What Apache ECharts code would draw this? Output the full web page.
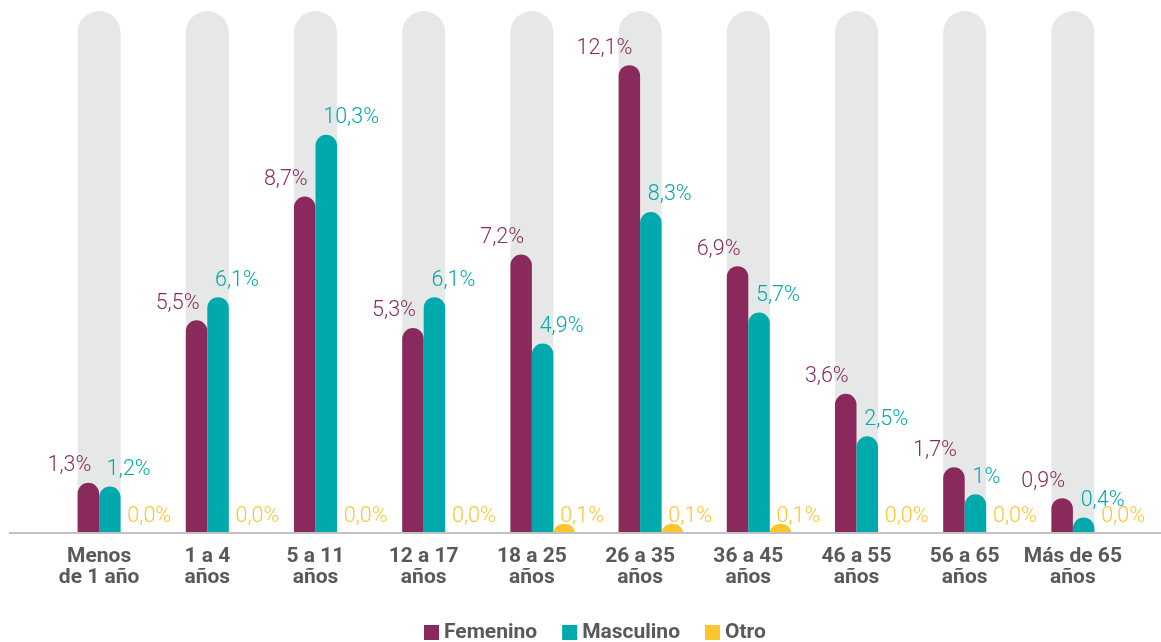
<!DOCTYPE html>
<html>
<head>
<meta charset="utf-8">
<style>
  html, body { margin: 0; padding: 0; background: #ffffff; }
  #chart { width: 1161px; height: 642px; }
</style>
<script src="https://cdn.jsdelivr.net/npm/echarts@6/dist/echarts.min.js"></script>
</head>
<body>
<div id="chart"></div>
<script>
const categories = ['Menos\nde 1 año', '1 a 4\naños', '5 a 11\naños', '12 a 17\naños', '18 a 25\naños', '26 a 35\naños', '36 a 45\naños', '46 a 55\naños', '56 a 65\naños', 'Más de 65\naños'];
const femenino  = [1.3, 5.5, 8.7, 5.3, 7.2, 12.1, 6.9, 3.6, 1.7, 0.9];
const masculino = [1.2, 6.1, 10.3, 6.1, 4.9, 8.3, 5.7, 2.5, 1, 0.4];
const otro      = [0.0, 0.0, 0.0, 0.0, 0.1, 0.1, 0.1, 0.0, 0.0, 0.0];
const seriesNames = ['Femenino', 'Masculino', 'Otro'];

const COL_F = '#8a2a5c';
const COL_M = '#00a9ab';
const COL_O = '#fdc52c';
const COL_BG = '#e5e8e7';
const TXT = '#58595b';
const FONT = 'Roboto, "Open Sans", sans-serif';

const fmtShort = v => String(v).replace('.', ',') + '%';
const fmtFixed = v => Number(v).toFixed(1).replace('.', ',') + '%';

const chart = echarts.init(document.getElementById('chart'));

const valueLabel = (color, align, dx, formatter, position, distance) => ({
  show: true,
  position: position,
  distance: distance,
  align: align,
  offset: [dx, 0],
  color: color,
  fontFamily: FONT,
  fontWeight: 300,
  fontSize: 21.5,
  formatter: p => formatter(p.value)
});

const option = {
  animation: false,
  backgroundColor: '#ffffff',
  grid: { left: 45, right: 34, top: 11, bottom: 109 },
  legend: {
    data: seriesNames,
    left: 419,
    top: 617,
    icon: 'rect',
    itemWidth: 15,
    itemHeight: 15,
    itemGap: 25,
    textStyle: { fontFamily: FONT, fontWeight: 'bold', fontSize: 21, color: TXT }
  },
  xAxis: [
    {
      type: 'category',
      data: categories,
      axisLine: { show: false },
      axisTick: { show: false },
      axisLabel: {
        interval: 0,
        margin: 13,
        fontFamily: FONT,
        fontWeight: 'bold',
        fontSize: 21,
        lineHeight: 21,
        color: TXT
      }
    },
    {
      type: 'category',
      data: categories,
      show: false
    }
  ],
  yAxis: {
    type: 'value',
    min: 0,
    max: 13.5,
    show: false,
    splitLine: { show: false }
  },
  series: [
    {
      name: 'fondo',
      type: 'bar',
      xAxisIndex: 1,
      barWidth: 43,
      data: categories.map(() => 0),
      itemStyle: { color: 'transparent' },
      showBackground: true,
      backgroundStyle: { color: COL_BG, borderRadius: [21.5, 21.5, 0, 0] },
      silent: true,
      z: 1
    },
    {
      name: 'espacio',
      type: 'bar',
      barWidth: 21.5,
      barGap: '0%',
      data: categories.map(() => null),
      itemStyle: { color: 'transparent' },
      silent: true,
      z: 2
    },
    {
      name: 'Femenino',
      type: 'bar',
      barWidth: 21.5,
      barGap: '0%',
      data: femenino,
      itemStyle: { color: COL_F, borderRadius: [10.75, 10.75, 0, 0] },
      label: valueLabel(COL_F, 'right', 3, fmtShort, 'top', 6),
      z: 3
    },
    {
      name: 'Masculino',
      type: 'bar',
      barWidth: 21.5,
      barGap: '0%',
      data: masculino,
      itemStyle: { color: COL_M, borderRadius: [10.75, 10.75, 0, 0] },
      label: valueLabel(COL_M, 'left', -3, fmtShort, 'top', 6),
      z: 3
    },
    {
      name: 'Otro',
      type: 'bar',
      barWidth: 21.5,
      barGap: '0%',
      barMinHeight: 9,
      data: otro.map(v => v === 0 ? { value: v, itemStyle: { color: 'transparent' } } : v),
      itemStyle: { color: COL_O, borderRadius: [10.75, 10.75, 0, 0] },
      label: valueLabel(COL_O, 'left', -4, fmtFixed, 'insideBottom', 5),
      z: 3
    }
  ]
};

chart.setOption(option);

// Baseline rule spanning the full width, placed at the value-axis zero.
const baseY = chart.convertToPixel({ gridIndex: 0 }, [0, 0])[1];
chart.setOption({
  graphic: [{
    type: 'line',
    z: 10,
    shape: { x1: 9, y1: baseY, x2: 1161, y2: baseY },
    style: { stroke: '#c2c2c2', lineWidth: 2 }
  }]
});
</script>
</body>
</html>
